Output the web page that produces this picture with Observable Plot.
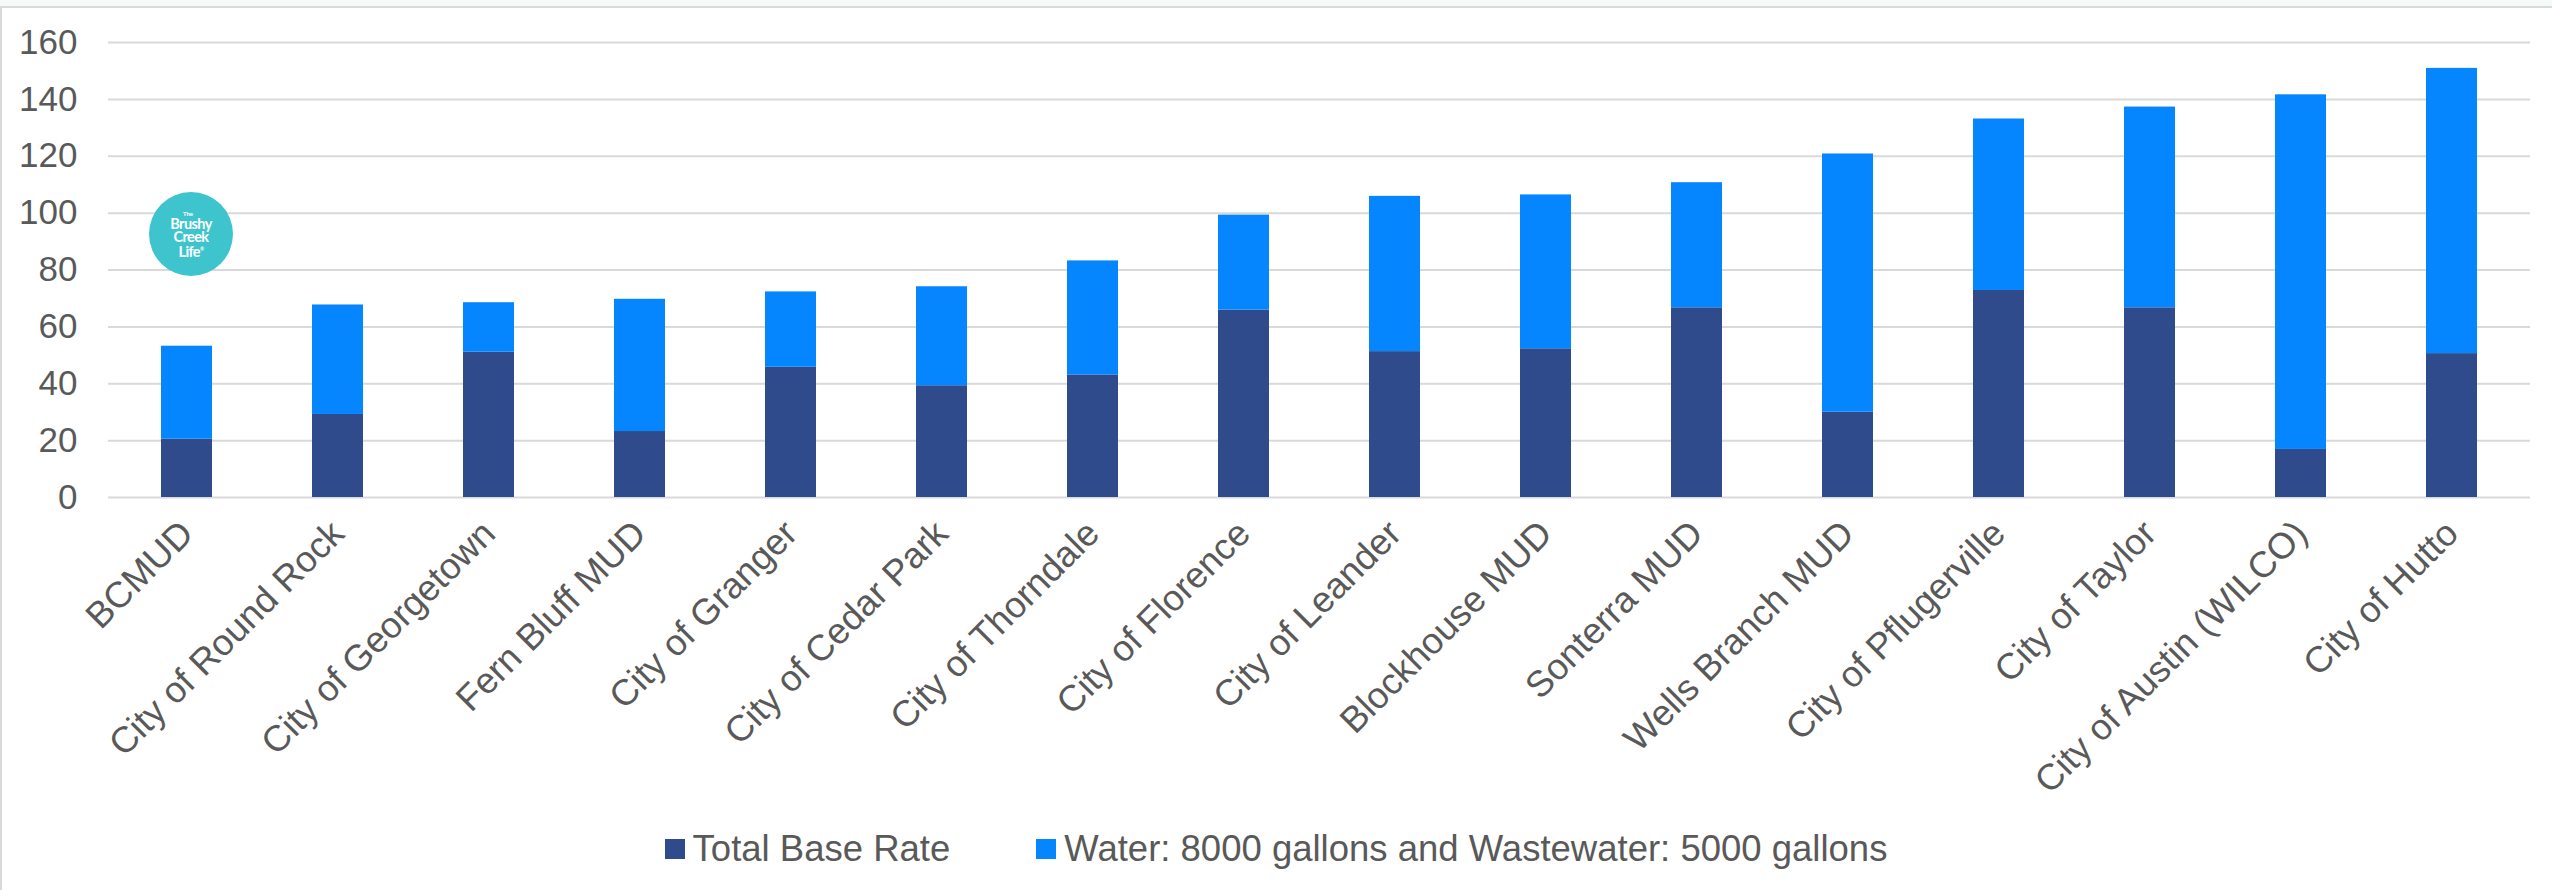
<!DOCTYPE html>
<html>
<head>
<meta charset="utf-8">
<script src="https://cdn.jsdelivr.net/npm/d3@7"></script>
<script src="https://cdn.jsdelivr.net/npm/@observablehq/plot@0.6"></script>
<style>
  html, body { margin: 0; padding: 0; background: #fff; }
  #wrap { position: relative; width: 2552px; height: 890px; overflow: hidden; background: #fff;
          font-family: "Liberation Sans", Arial, sans-serif; }
  #topband { position: absolute; left: 0; top: 0; width: 2552px; height: 6px; background: #f7f8f8;
             border-bottom: 2px solid #d9d9d9; }
  #leftline { position: absolute; left: 0; top: 6px; width: 2px; height: 884px; background: #d9d9d9; }
  #chart { position: absolute; left: 0; top: 0; }
  #legend { position: absolute; left: 0; top: 828px; width: 2552px; display: flex; justify-content: center;
            align-items: center; font-size: 36.5px; color: #595959; }
  .item { display: flex; align-items: center; }
  .item + .item { margin-left: 86px; }
  .sw { width: 20px; height: 20px; margin-right: 8px; }
  #logo { position: absolute; left: 149px; top: 192px; width: 84px; height: 84px; border-radius: 50%;
          background: #3ec4cc; color: #fff; font-family: Lato, "Open Sans", sans-serif; font-weight: 700;
          display: flex; flex-direction: column; align-items: center; justify-content: center; }
  #logo .the { font-size: 6px; line-height: 7px; margin-left: -6px; }
  #logo .big { font-size: 14.5px; line-height: 13px; letter-spacing: -0.6px; }
</style>
</head>
<body>
<div id="wrap">
  <div id="topband"></div>
  <div id="leftline"></div>
  <div id="chart"></div>
  <div id="logo"><span class="the">The</span><span class="big">Brushy</span><span class="big">Creek</span><span class="big">Life<sup style="font-size:5px">®</sup></span></div>
  <div id="legend"></div>
</div>
<script>
const categories = ["BCMUD", "City of Round Rock", "City of Georgetown", "Fern Bluff MUD", "City of Granger",
  "City of Cedar Park", "City of Thorndale", "City of Florence", "City of Leander", "Blockhouse MUD",
  "Sonterra MUD", "Wells Branch MUD", "City of Pflugerville", "City of Taylor", "City of Austin (WILCO)", "City of Hutto"];
const seriesNames = ["Total Base Rate", "Water: 8000 gallons and Wastewater: 5000 gallons"];
const baseRate = [20.5, 29.2, 51.1, 23.2, 45.8, 39.3, 43.1, 65.9, 51.3, 52.3, 66.7, 30.0, 72.8, 66.7, 16.9, 50.6];
const usageCharge = [32.7, 38.5, 17.4, 46.5, 26.5, 34.8, 40.1, 33.4, 54.6, 54.1, 44.0, 90.8, 60.3, 70.6, 124.7, 100.3];
const yTicks = [0, 20, 40, 60, 80, 100, 120, 140, 160];
const colors = ["#304b8b", "#0585fe"];

const rows = [];
categories.forEach((c, i) => {
  rows.push({ name: c, series: seriesNames[0], value: baseRate[i] });
  rows.push({ name: c, series: seriesNames[1], value: usageCharge[i] });
});

const chart = Plot.plot({
  width: 2552,
  height: 800,
  marginTop: 42,
  marginBottom: 303,
  marginLeft: 108,
  marginRight: 22,
  style: { fontSize: "35px", fontFamily: "'Liberation Sans', Arial, sans-serif", color: "#595959", background: "transparent" },
  x: { domain: categories, paddingInner: 0.663, paddingOuter: 0.3315, label: null },
  y: { domain: [0, 160], label: null },
  color: { domain: seriesNames, range: colors },
  marks: [
    Plot.gridY(yTicks, { stroke: "#d9d9d9", strokeWidth: 2, strokeOpacity: 1 }),
    Plot.barY(rows, { x: "name", y: "value", fill: "series", order: seriesNames }),
    Plot.axisY(yTicks, { tickSize: 0, tickPadding: 31, fill: "#595959", label: null }),
    Plot.axisX({ tickSize: 0, tickPadding: 30, tickRotate: -45, fill: "#595959", fontSize: 36.5, label: null })
  ]
});
document.getElementById("chart").appendChild(chart);

const legend = document.getElementById("legend");
seriesNames.forEach((s, i) => {
  const item = document.createElement("div");
  item.className = "item";
  const sw = document.createElement("div");
  sw.className = "sw";
  sw.style.background = colors[i];
  const t = document.createElement("span");
  t.textContent = s;
  item.appendChild(sw);
  item.appendChild(t);
  legend.appendChild(item);
});
</script>
</body>
</html>
